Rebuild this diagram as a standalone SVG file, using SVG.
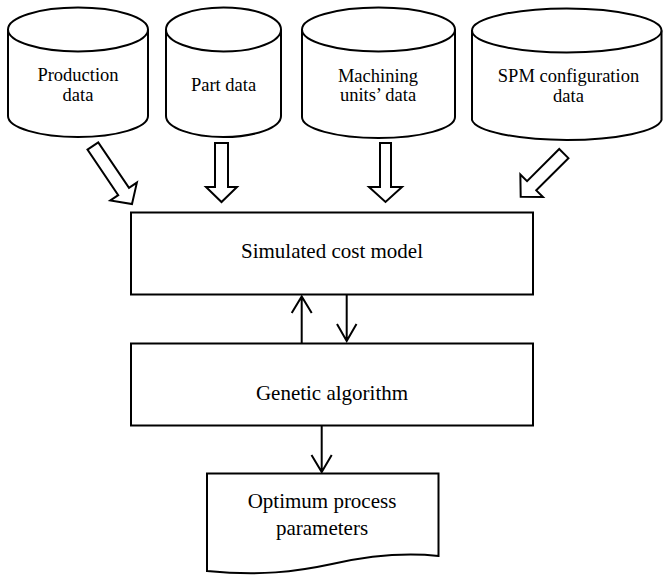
<svg xmlns="http://www.w3.org/2000/svg" width="663" height="575" viewBox="0 0 663 575">
<style>
.s{fill:#fff;stroke:#000;stroke-width:2}
.l{fill:none;stroke:#000;stroke-width:2}
.t{font-family:"Liberation Serif","Times New Roman",serif;fill:#000;text-anchor:middle}
.c{font-size:18.5px}
.m{font-size:21px}
</style>
<rect width="663" height="575" fill="#fff"/>
<g id="production">
<path class="s" d="M8,29.5 V116 A70,21 0 0 0 148,116 V29.5"/>
<ellipse class="s" cx="78" cy="29.5" rx="70" ry="22"/>
<text class="t c" x="78" y="80.5">Production</text>
<text class="t c" x="78" y="100.5">data</text>
</g>
<g id="part">
<path class="s" d="M166,29.5 V116 A57.5,21 0 0 0 281,116 V29.5"/>
<ellipse class="s" cx="223.5" cy="29.5" rx="57.5" ry="22"/>
<text class="t c" x="223.5" y="90.5">Part data</text>
</g>
<g id="machining">
<path class="s" d="M302,29.5 V117 A76.5,21 0 0 0 455,117 V29.5"/>
<ellipse class="s" cx="378.5" cy="29.5" rx="76.5" ry="22"/>
<text class="t c" x="378" y="82">Machining</text>
<text class="t c" x="378" y="101">units’ data</text>
</g>
<g id="spm">
<path class="s" d="M472,30.5 V120 A95,21.5 0 0 0 661.5,120 V30.5"/>
<ellipse class="s" cx="566.75" cy="30.5" rx="94.75" ry="22"/>
<text class="t c" x="568.5" y="82">SPM configuration</text>
<text class="t c" x="568.5" y="102">data</text>
</g>
<g id="cost">
<rect class="s" x="131" y="212.5" width="402" height="82"/>
<text class="t m" x="332" y="257.5">Simulated cost model</text>
</g>
<g id="ga">
<rect class="s" x="131" y="343.5" width="402" height="82"/>
<text class="t m" x="332" y="400">Genetic algorithm</text>
</g>
<g id="optimum">
<path class="s" d="M207,473.5 H438.5 V556 C410,553 372,555 332,564 C295,572 260,576 207,571 Z"/>
<text class="t m" x="322" y="508">Optimum process</text>
<text class="t m" x="322" y="535">parameters</text>
</g>
<g id="connectors">
<polygon class="s" transform="translate(132,204) rotate(-34)" points="-6.5,-70 6.5,-70 6.5,-15 16,-15 0,0 -16,-15 -6.5,-15"/>
<polygon class="s" transform="translate(221.5,202)" points="-6.5,-59 6.5,-59 6.5,-15 15.5,-15 0,0 -15.5,-15 -6.5,-15"/>
<polygon class="s" transform="translate(385.5,202)" points="-5.5,-59 5.5,-59 5.5,-15 16.5,-15 0,0 -16.5,-15 -5.5,-15"/>
<polygon class="s" transform="translate(520.7,196.7) rotate(45)" points="-6.5,-61 6.5,-61 6.5,-15.5 16,-15.5 0,0 -16,-15.5 -6.5,-15.5"/>
<path class="l" d="M301.7,344 V296.5 M291.7,313 L301.7,296.5 L311.7,313"/>
<path class="l" d="M346.7,295 V341 M337,324 L346.7,341 L356.5,324"/>
<path class="l" d="M321.7,425 V472 M311.5,455 L321.7,472 L331.7,455"/>
</g>
</svg>
